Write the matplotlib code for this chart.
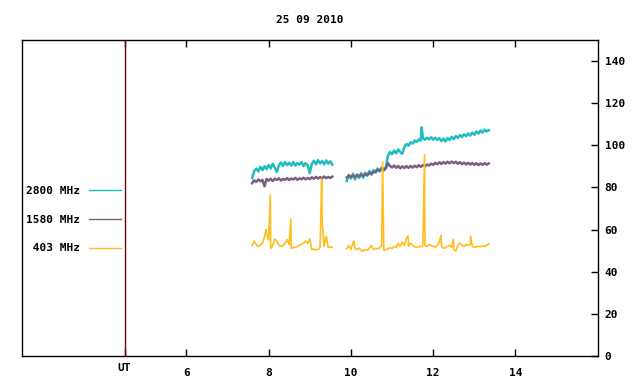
import matplotlib
matplotlib.use("Agg")
import matplotlib.pyplot as plt
import matplotlib.transforms as mtransforms
import numpy as np

plt.rcParams['font.family'] = 'DejaVu Sans Mono'
plt.rcParams['font.weight'] = 'bold'
plt.rcParams['font.size'] = 8

title = "25 09 2010"
labels = ["2800 MHz", "1580 MHz", " 403 MHz"]
colors = ["#1CBEBE", "#7E5E7E", "#FFBE1E"]
widths = [1.8, 1.8, 1.2]

# sampling grid of the two recorded intervals (UT hours)
t1 = np.arange(7.60, 9.56, 0.05)
t2 = np.arange(9.90, 13.36, 0.05)

cyan1 = [84.5, 87.8, 88.9, 87.6, 89.8, 88.2, 90.1, 88.7, 90.6, 89.0,
         91.2, 89.4, 87.3, 90.5, 91.8, 90.2, 92.0, 90.6, 91.7, 90.3,
         92.1, 90.4, 91.6, 90.8, 92.0, 90.1, 91.5, 90.5, 86.8, 91.2,
         92.6, 90.9, 93.0, 91.4, 92.5, 91.0, 92.8, 91.3, 92.4, 90.8]
cyan2 = [83.0, 86.0, 84.2, 86.5, 83.8, 86.2, 84.5, 86.8, 84.6, 87.0,
         85.5, 87.8, 86.0, 88.2, 87.0, 89.0, 87.6, 89.5, 88.0, 89.8,
         95.0, 96.8, 95.8, 97.5, 96.2, 98.0, 96.8, 96.0, 99.2, 100.6,
         99.8, 101.4, 100.8, 102.3, 101.6, 102.8, 102.2, 103.5, 102.6, 103.6,
         102.8, 103.8, 102.7, 103.5, 102.6, 103.4, 102.0, 103.2, 101.8, 103.4,
         102.5, 104.0, 103.0, 104.4, 103.5, 104.8, 104.0, 105.2, 104.3, 105.6,
         104.6, 106.0, 105.0, 106.5, 105.6, 107.0, 106.0, 107.4, 106.5, 107.2]
cyan_spikes = [(11.72, 108.5)]

purple1 = [82.0, 83.4, 82.6, 83.8, 82.9, 83.6, 80.5, 84.0, 83.2, 84.1,
           83.0, 84.2, 83.5, 84.3, 83.3, 84.0, 83.6, 84.4, 83.5, 84.2,
           83.8, 84.5, 83.6, 84.3, 83.9, 84.6, 83.8, 84.5, 84.0, 84.8,
           84.1, 85.0, 84.2, 84.9, 84.3, 85.2, 84.4, 85.0, 84.5, 85.1]
purple2 = [84.8, 85.6, 84.9, 85.7, 85.0, 85.8, 85.2, 86.0, 85.5, 86.3,
           86.0, 86.8, 86.5, 87.4, 87.5, 88.4, 88.0, 88.8, 88.3, 89.0,
           91.5, 90.2, 89.5, 90.4, 89.3, 90.2, 89.1, 90.0, 89.2, 90.1,
           89.3, 90.2, 89.4, 90.3, 89.6, 90.5, 89.8, 90.6, 90.0, 90.9,
           90.4, 91.3, 90.7, 91.7, 91.0, 91.9, 91.1, 92.0, 91.3, 92.2,
           91.4, 92.3, 91.5, 92.2, 91.2, 92.0, 91.0, 91.8, 90.9, 91.7,
           90.8, 91.6, 90.7, 91.5, 90.6, 91.4, 90.7, 91.5, 90.8, 91.4]

orange1 = [52.5, 54.5, 52.8, 52.0, 52.5, 53.5, 56.5, 58.0, 55.0, 51.0,
           52.5, 55.5, 54.5, 52.5, 52.0, 52.5, 53.5, 55.2, 53.0, 51.0,
           51.5, 51.5, 52.0, 52.5, 53.0, 53.5, 54.5, 53.5, 55.5, 50.5,
           50.8, 50.3, 50.6, 51.5, 64.0, 52.0, 56.8, 51.5, 51.8, 51.5]
orange2 = [51.0, 52.5, 50.5, 53.5, 51.0, 50.5, 51.2, 50.0, 49.8, 50.5,
           50.2, 51.0, 52.5, 50.5, 51.0, 50.8, 51.5, 52.5, 50.2, 50.5,
           50.8, 51.5, 51.0, 52.0, 51.5, 53.5, 52.0, 54.0, 52.5, 56.0,
           52.0, 53.5, 52.5, 51.8, 51.5, 52.0, 51.8, 52.5, 52.5, 52.0,
           52.8, 52.5, 52.0, 51.5, 52.5, 54.0, 52.5, 51.0, 51.5, 52.0,
           52.5, 51.5, 50.5, 49.8, 52.5, 53.5, 52.5, 52.0, 53.0, 52.5,
           52.8, 52.0, 51.5, 51.8, 52.0, 51.8, 52.2, 52.0, 52.5, 53.2]
orange_spikes = [(7.94, 60.0), (8.04, 76.5), (8.54, 65.0), (9.29, 84.0),
                 (10.07, 54.5), (10.77, 92.0), (11.39, 57.0), (11.79, 95.5),
                 (12.19, 57.2), (12.49, 55.5), (12.91, 57.0)]


def series(v1, v2, spikes=()):
    t = np.concatenate([t1, t2])
    v = np.concatenate([v1, v2])
    if spikes:
        st, sv = zip(*spikes)
        t = np.concatenate([t, st])
        v = np.concatenate([v, sv])
        order = np.argsort(t)
        t, v = t[order], v[order]
    # break the line between the two intervals
    gap = np.searchsorted(t, t2[0])
    t = np.insert(t, gap, np.nan)
    v = np.insert(v, gap, np.nan)
    return t, v


fig = plt.figure(figsize=(6.4, 3.84), dpi=100)
ax = fig.add_axes([0.034, 0.073, 0.9, 0.823])

for (v1, v2, sp), lab, col, lw in zip(
        [(cyan1, cyan2, cyan_spikes), (purple1, purple2, ()), (orange1, orange2, orange_spikes)],
        labels, colors, widths):
    t, v = series(v1, v2, sp)
    ax.plot(t, v, color=col, lw=lw, label=lab)

ax.axvline(4.5, color="#7A0000", lw=1.0)

ax.set_xlim(2, 16)
ax.set_ylim(0, 150)
ax.set_xticks([4.5, 6, 8, 10, 12, 14])
ax.set_xticklabels(["UT", "6", "8", "10", "12", "14"])
ax.set_yticks(range(0, 141, 20))
ax.yaxis.tick_right()
ax.tick_params(axis="y", direction="in", length=5, width=1, pad=5)
ax.tick_params(axis="x", direction="in", length=5, width=1, top=True, pad=9)
for s in ax.spines.values():
    s.set_linewidth(1)

# UT label sits a little higher than the hour numbers
ut = ax.get_xticklabels()[0]
ut.set_transform(ut.get_transform() + mtransforms.ScaledTranslation(0, 4 / 72, fig.dpi_scale_trans))

ax.set_title(title, fontsize=8, fontweight="bold", pad=12)

leg = ax.legend(loc="upper left", bbox_to_anchor=(0.0, 0.553), frameon=False,
                markerfirst=False, handlelength=2.9, labelspacing=1.7,
                handletextpad=0.8, borderaxespad=0)
for h in leg.get_lines():
    h.set_linewidth(1.0)

fig.savefig("out.png", dpi=100)
